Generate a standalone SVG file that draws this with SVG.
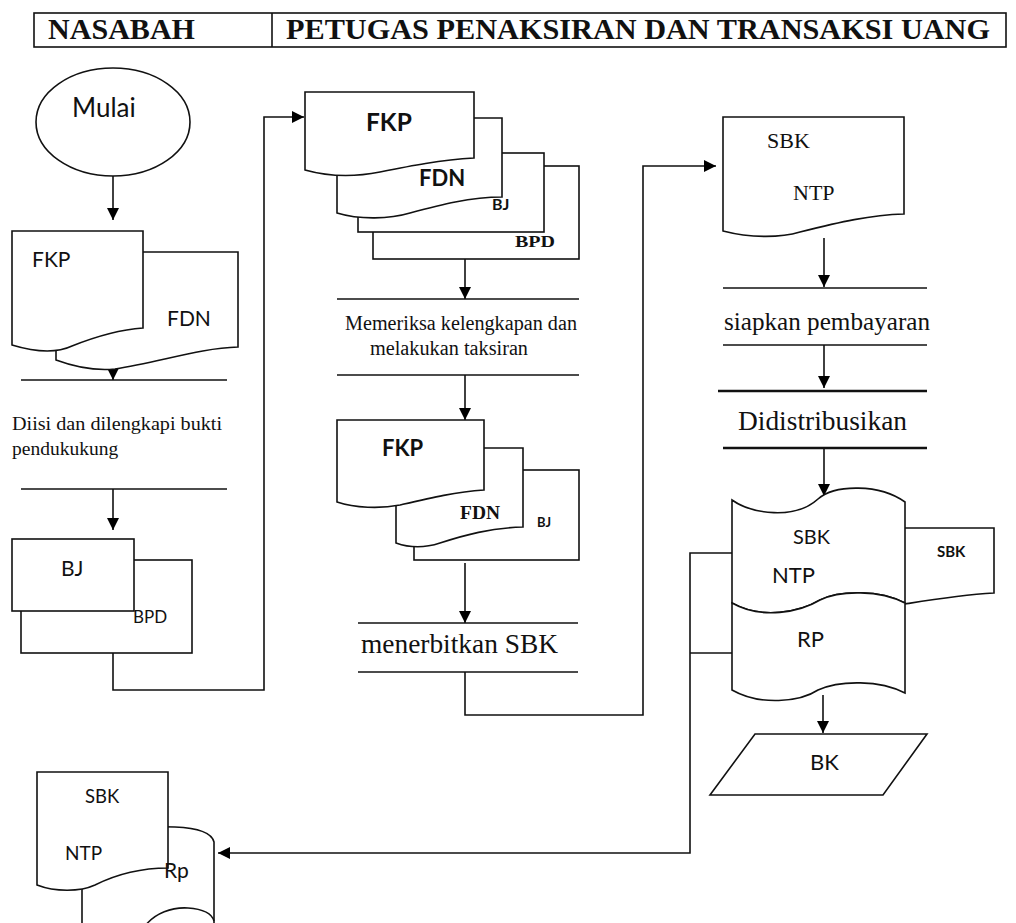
<svg xmlns="http://www.w3.org/2000/svg" width="1016" height="923" viewBox="0 0 1016 923">
<defs>
<marker id="ah" markerUnits="userSpaceOnUse" markerWidth="12" markerHeight="14" refX="13" refY="6.5" orient="auto" viewBox="0 0 13 13">
<path d="M0,0 L13,6.5 L0,13 Z" fill="#000"/>
</marker>
<style>
.s{fill:#fff;stroke:#111;stroke-width:1.6}
.ln{fill:none;stroke:#111;stroke-width:1.6}
.thick{fill:none;stroke:#111;stroke-width:2.6}
.c{fill:none;stroke:#111;stroke-width:1.6;marker-end:url(#ah)}
.sans{font-family:Lato,"Liberation Sans",sans-serif;fill:#111}
.serif{font-family:"Liberation Serif","Times New Roman",serif;fill:#111}
.b{font-weight:bold}
</style>
</defs>
<rect width="1016" height="923" fill="#fff"/>

<g id="header">
<rect x="34" y="13" width="972" height="34" class="ln" stroke-width="2"/>
<line x1="272" y1="13" x2="272" y2="47" class="ln"/>
<text x="48" y="39" class="serif b" font-size="29" textLength="147" lengthAdjust="spacingAndGlyphs">NASABAH</text>
<text x="286" y="39" class="serif b" font-size="29" textLength="704" lengthAdjust="spacingAndGlyphs">PETUGAS PENAKSIRAN DAN TRANSAKSI UANG</text>
</g>

<g id="connectors">
<path class="c" d="M113,176 V220"/>
<path class="c" d="M113,345 V380"/>
<path class="c" d="M113,489 V530"/>
<path class="c" d="M113,653 V690 H264 V117 H304"/>
<path class="c" d="M465,259 V299"/>
<path class="c" d="M465,375 V420"/>
<path class="c" d="M465,563 V623"/>
<path class="c" d="M465,672 V715 H643 V166 H716"/>
<path class="c" d="M824,238 V287"/>
<path class="c" d="M824,345 V388"/>
<path class="c" d="M824,448 V496"/>
<path class="c" d="M823,695 V733"/>
<path class="ln" d="M732,653 H690"/>
<path class="c" d="M732,553 H690 V853 H218"/>
</g>

<g id="start">
<ellipse cx="113" cy="122" rx="77" ry="54" class="s"/>
<text x="72" y="117" class="sans" font-size="26">Mulai</text>
</g>

<g id="doc-fkp-fdn-nasabah">
<path class="s" d="M56,252 H238 V347 C200,348 160,362 115,369 C95,371 75,367 56,360 Z"/>
<path class="s" d="M12,231 H143 V328 C115,330 92,338 72,346 C55,354 35,352 12,345 Z"/>
<text x="32" y="267" class="sans" font-size="21">FKP</text>
<text x="167" y="326" class="sans" font-size="21">FDN</text>
</g>

<g id="proc-diisi">
<line x1="21" y1="380" x2="227" y2="380" class="ln"/>
<text x="12" y="430" class="serif" font-size="19.5" textLength="210" lengthAdjust="spacingAndGlyphs">Diisi dan dilengkapi bukti</text>
<text x="12" y="455" class="serif" font-size="19.5">pendukukung</text>
<line x1="21" y1="489" x2="227" y2="489" class="ln"/>
</g>

<g id="doc-bj-bpd-nasabah">
<rect x="21" y="560" width="171" height="93" class="s"/>
<rect x="12" y="539" width="122" height="72" class="s"/>
<text x="61" y="576" class="sans" font-size="21">BJ</text>
<text x="133" y="623" class="sans" font-size="17">BPD</text>
</g>

<g id="doc-stack-1">
<rect x="373" y="166" width="206" height="93" class="s"/>
<rect x="358" y="153" width="186" height="79" class="s"/>
<path class="s" d="M337,118 H502 V197 C470,197 440,205 410,213 C390,219 360,220 337,213 Z"/>
<path class="s" d="M305,92 H474 V158 C440,160 410,166 380,172 C355,177 330,177 305,170 Z"/>
<text x="366" y="131" class="sans b" font-size="24.5">FKP</text>
<text x="419" y="186" class="sans b" font-size="22">FDN</text>
<text x="492" y="210" class="sans b" font-size="16">BJ</text>
<text x="515" y="247" class="serif b" font-size="17" textLength="40" lengthAdjust="spacingAndGlyphs">BPD</text>
</g>

<g id="proc-memeriksa">
<line x1="337" y1="299" x2="579" y2="299" class="ln"/>
<text x="345" y="330" class="serif" font-size="20" textLength="232" lengthAdjust="spacingAndGlyphs">Memeriksa kelengkapan dan</text>
<text x="370" y="355" class="serif" font-size="20" textLength="158" lengthAdjust="spacingAndGlyphs">melakukan taksiran</text>
<line x1="337" y1="375" x2="579" y2="375" class="ln"/>
</g>

<g id="doc-stack-2">
<rect x="414" y="470" width="165" height="90" class="s"/>
<path class="s" d="M396,448 H523 V527 C490,528 465,535 440,543 C425,548 410,548 396,543 Z"/>
<path class="s" d="M337,420 H484 V490 C455,492 430,498 400,505 C380,509 355,508 337,502 Z"/>
<text x="382" y="456" class="sans b" font-size="22">FKP</text>
<text x="460" y="519" class="serif b" font-size="19" textLength="40" lengthAdjust="spacingAndGlyphs">FDN</text>
<text x="537" y="527" class="sans b" font-size="13">BJ</text>
</g>

<g id="proc-menerbitkan">
<line x1="358" y1="623" x2="578" y2="623" class="ln"/>
<text x="361" y="653" class="serif" font-size="27" textLength="197" lengthAdjust="spacingAndGlyphs">menerbitkan SBK</text>
<line x1="358" y1="672" x2="578" y2="672" class="ln"/>
</g>

<g id="doc-sbk-ntp">
<path class="s" d="M723,117 H904 V214 C870,215 840,222 800,232 C780,238 750,238 723,231 Z"/>
<text x="767" y="148" class="serif" font-size="22">SBK</text>
<text x="793" y="200" class="serif" font-size="22">NTP</text>
</g>

<g id="proc-siapkan">
<line x1="723" y1="288" x2="927" y2="288" class="ln"/>
<text x="724" y="330" class="serif" font-size="25" textLength="206" lengthAdjust="spacingAndGlyphs">siapkan pembayaran</text>
<line x1="723" y1="345" x2="927" y2="345" class="ln"/>
</g>

<g id="proc-didistribusikan">
<line x1="718" y1="391" x2="927" y2="391" class="thick"/>
<text x="738" y="430" class="serif" font-size="27" textLength="169" lengthAdjust="spacingAndGlyphs">Didistribusikan</text>
<line x1="723" y1="448" x2="927" y2="448" class="thick"/>
</g>

<g id="doc-sbk-ntp-rp">
<path class="s" d="M905,528 H994 V593 C960,595 930,600 905,604"/>
<path class="s" d="M732,500 C752,514 795,520 818,499 C835,484 880,484 905,502 V603 C880,590 840,590 820,600 C800,612 762,620 732,603 Z"/>
<path class="s" d="M732,603 C762,620 800,612 820,600 C840,590 880,590 905,603 V693 C880,680 840,680 818,690 C800,702 760,706 732,690 Z"/>
<text x="793" y="544" class="sans" font-size="20">SBK</text>
<text x="772" y="583" class="sans" font-size="22">NTP</text>
<text x="937" y="557" class="sans b" font-size="15">SBK</text>
<text x="797" y="647" class="sans" font-size="22">RP</text>
</g>

<g id="bk">
<polygon points="755,734 927,734 883,795 710,795" class="s"/>
<text x="810" y="770" class="sans" font-size="22">BK</text>
</g>

<g id="doc-arsip-nasabah">
<path class="s" d="M82,838 C110,828 150,826 175,827 C200,828 212,834 214,842 V935 H82 Z"/>
<path class="ln" d="M145,926 C155,913 172,907 188,908 C203,909 212,914 214,921"/>
<path class="s" d="M37,772 H168 V868 C140,868 115,875 95,885 C80,892 55,892 37,885 Z"/>
<text x="85" y="803" class="sans" font-size="18.5">SBK</text>
<text x="65" y="860" class="sans" font-size="19">NTP</text>
<text x="164" y="878" class="sans" font-size="21">Rp</text>
</g>
</svg>
